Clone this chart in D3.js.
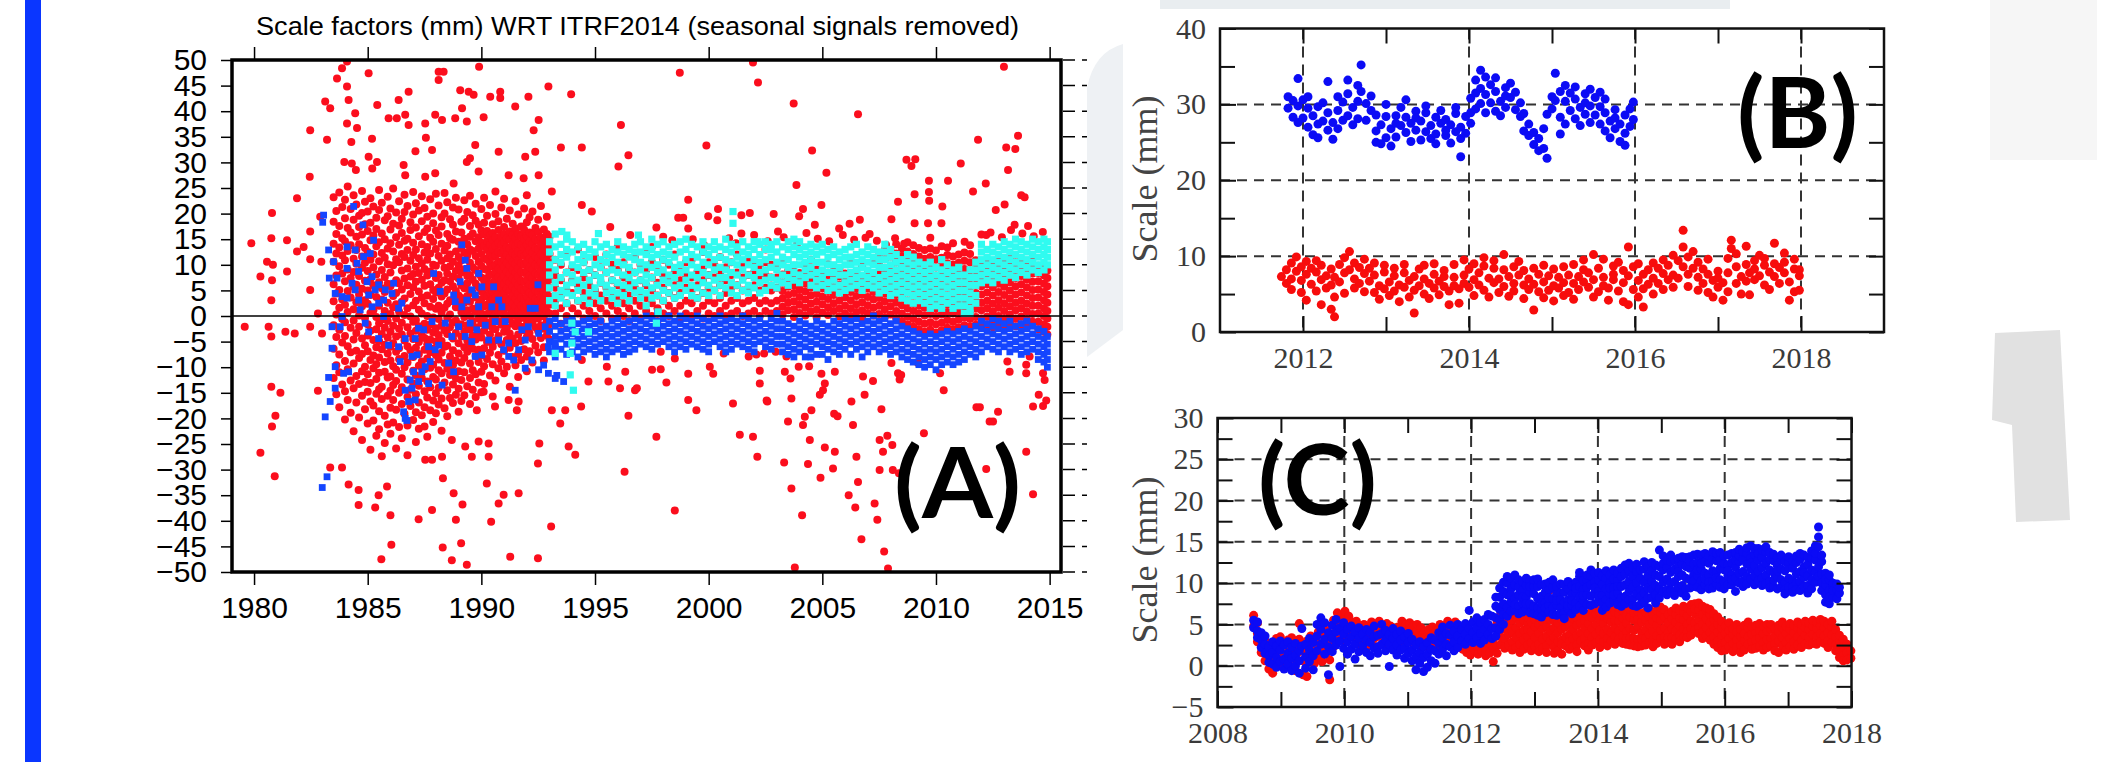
<!DOCTYPE html>
<html>
<head>
<meta charset="utf-8">
<script src="https://cdn.jsdelivr.net/npm/d3@7"></script>
<style>
  body { margin: 0; background: #fff; }
  svg { display: block; }
</style>
</head>
<body>
<svg id="chart" width="2107" height="762"></svg>
<script>
// ---------- panel A : scale factors WRT ITRF2014 ----------
var aTitle = "Scale factors (mm) WRT ITRF2014 (seasonal signals removed)";
var aYearTicks = [1980, 1985, 1990, 1995, 2000, 2005, 2010, 2015];
var aValTicks = [50, 45, 40, 35, 30, 25, 20, 15, 10, 5, 0, -5, -10, -15, -20, -25, -30, -35, -40, -45, -50];

// rows are [epoch, value, value, ...] : all values read for one epoch column
var aRedCore = [
  [1983.50, 23.2, 18.4, 14.1, 10.6, 6.2, 2.9, -1.8, -6.4, -12.1],
  [1983.62, 20.5, 16.0, 12.2, 7.9, 4.4, 0.3, -4.1, -9.6, -15.3],
  [1983.75, 24.1, 17.6, 13.4, 9.7, 5.1, 1.6, -2.7, -7.5, -11.0, -17.8],
  [1983.88, 21.3, 15.2, 11.8, 8.3, 3.2, -0.6, -5.2, -13.4],
  [1984.00, 22.7, 19.1, 14.6, 10.9, 6.8, 2.2, -1.2, -3.9, -8.8, -14.7, -20.2],
  [1984.12, 25.3, 17.2, 12.7, 9.1, 4.9, 0.8, -5.9, -10.4, -16.4],
  [1984.25, 20.9, 16.3, 13.8, 7.4, 3.6, -2.3, -7.1, -12.6, -18.9],
  [1984.38, 23.6, 18.8, 11.2, 8.6, 5.7, 1.3, -0.9, -4.6, -9.3, -14.1, -22.5],
  [1984.50, 21.8, 15.5, 12.9, 10.2, 6.1, 2.7, -3.3, -6.8, -11.7, -16.9],
  [1984.62, 19.6, 17.4, 14.0, 7.8, 4.2, 0.1, -2.1, -8.2, -13.3, -19.8],
  [1984.75, 24.4, 20.1, 15.9, 11.6, 9.4, 5.3, 1.9, -4.4, -7.4, -10.8, -15.6, -24.2],
  [1984.88, 22.3, 17.9, 13.3, 10.4, 6.9, 3.1, -0.4, -5.7, -9.9, -12.9, -18.2],
  [1985.00, 20.4, 16.6, 12.5, 8.8, 5.0, 2.4, -1.6, -3.8, -6.9, -11.4, -14.8, -21.0],
  [1985.12, 23.0, 18.2, 14.8, 11.0, 7.2, 4.1, 0.6, -2.9, -8.6, -13.1, -16.7, -26.1],
  [1985.25, 21.4, 15.7, 12.0, 9.5, 6.0, 1.1, -4.7, -7.7, -10.2, -17.5, -20.4],
  [1985.38, 19.2, 17.0, 13.6, 8.1, 3.7, -0.2, -2.6, -6.1, -9.4, -12.3, -15.2, -23.4],
  [1985.50, 24.6, 20.7, 14.4, 10.7, 6.6, 2.0, -1.4, -4.9, -8.1, -11.1, -14.3, -18.6, -22.1],
  [1985.62, 22.1, 16.1, 12.3, 9.0, 5.4, 3.2, -0.7, -3.5, -6.5, -13.8, -16.2, -27.4],
  [1985.75, 18.7, 15.0, 11.4, 7.6, 4.7, 1.0, -2.3, -5.6, -9.0, -10.9, -19.5, -24.8],
  [1985.88, 23.3, 19.5, 13.2, 10.1, 6.3, 2.6, -1.0, -4.2, -7.3, -12.0, -15.6, -21.2],
  [1986.00, 21.0, 16.9, 14.2, 8.5, 5.8, 0.4, -3.1, -6.0, -8.7, -11.8, -14.6, -17.9, -23.0],
  [1986.12, 24.9, 18.0, 12.6, 9.9, 3.9, 1.7, -1.9, -5.3, -9.8, -13.5, -16.4, -20.8],
  [1986.25, 20.2, 15.4, 11.1, 7.0, 4.5, 2.3, -0.5, -4.0, -7.0, -10.5, -12.7, -18.3, -25.9],
  [1986.38, 22.4, 17.7, 13.9, 10.5, 6.4, 0.9, -2.5, -6.3, -8.4, -15.0, -21.7],
  [1986.50, 19.0, 16.2, 12.1, 8.9, 5.2, 2.8, -1.3, -3.6, -11.3, -13.9, -17.2, -23.9],
  [1986.62, 23.7, 20.3, 14.7, 11.5, 7.3, 3.4, 0.2, -4.8, -7.8, -10.0, -19.1],
  [1986.75, 21.5, 15.1, 12.9, 9.3, 6.0, 1.5, -2.2, -5.9, -9.1, -12.4, -15.8, -21.4, -27.2],
  [1986.88, 18.3, 16.8, 10.8, 7.7, 4.3, -0.1, -3.4, -6.7, -14.4, -17.6],
  [1987.00, 24.2, 19.8, 14.3, 11.9, 8.2, 5.6, 2.1, -1.1, -4.5, -8.0, -10.7, -13.2, -20.3],
  [1987.12, 22.0, 17.3, 13.0, 9.6, 6.7, 3.0, -0.8, -2.9, -6.2, -11.6, -15.3, -18.8, -24.6],
  [1987.25, 20.6, 15.6, 11.3, 8.4, 4.8, 1.2, -2.0, -5.1, -7.4, -9.7, -13.6, -16.9, -22.0],
  [1987.38, 23.4, 18.5, 14.0, 10.3, 7.1, 3.6, 0.5, -3.8, -8.9, -12.1, -19.4],
  [1987.50, 21.1, 16.4, 12.4, 9.2, 5.9, 2.5, -1.5, -4.3, -6.6, -10.4, -14.7, -17.8, -21.6],
  [1987.62, 19.4, 17.1, 13.5, 11.0, 7.9, 4.0, 0.0, -2.7, -5.5, -8.3, -12.8, -15.9, -23.6],
  [1987.75, 22.8, 15.3, 12.2, 8.7, 6.2, 1.8, -1.7, -4.6, -7.1, -10.1, -13.9, -18.4],
  [1987.88, 20.0, 18.1, 14.5, 10.0, 5.1, 3.3, -0.3, -3.2, -6.4, -9.5, -11.9, -16.5, -20.7],
  [1988.00, 23.9, 16.7, 13.1, 9.8, 7.4, 4.6, 1.4, -2.4, -5.0, -7.6, -12.4, -15.1, -19.0],
  [1988.12, 21.6, 15.8, 11.7, 8.0, 5.5, 2.0, -0.6, -3.7, -8.5, -10.6, -14.0, -17.3],
  [1988.25, 19.3, 17.5, 14.1, 10.8, 6.5, 3.8, 0.7, -1.9, -4.9, -7.2, -11.2, -16.1, -22.4],
  [1988.38, 24.0, 20.0, 12.8, 9.4, 7.0, 4.4, 1.6, -2.8, -6.0, -9.2, -13.0, -18.0],
  [1988.50, 22.2, 16.0, 13.7, 11.3, 8.3, 5.2, 2.4, -0.4, -3.5, -5.8, -10.3, -14.5, -19.6],
  [1988.62, 18.9, 15.2, 12.0, 9.7, 6.8, 3.1, 0.3, -2.2, -7.9, -11.5, -16.0],
  [1988.75, 21.2, 17.8, 14.9, 10.6, 7.7, 5.8, 2.9, -1.2, -4.4, -6.7, -9.6, -13.4, -17.0],
  [1988.88, 23.1, 16.5, 12.6, 8.8, 4.9, 1.7, -0.9, -3.3, -8.7, -12.2, -15.4],
  [1989.00, 20.8, 14.5, 11.5, 9.9, 7.3, 4.0, 2.2, -2.0, -5.3, -7.3, -10.8, -14.2, -18.7],
  [1989.12, 18.4, 16.3, 13.3, 10.9, 8.5, 6.0, 3.5, 0.8, -1.6, -4.0, -9.1, -12.5, -16.6],
  [1989.25, 22.6, 19.0, 15.1, 12.4, 9.1, 5.4, 2.6, -0.2, -3.0, -6.1, -8.2, -11.0, -15.5],
  [1989.38, 20.3, 14.0, 11.8, 7.8, 6.4, 3.9, 1.1, -1.8, -4.8, -7.0, -13.7],
  [1989.50, 23.5, 17.6, 15.5, 13.0, 10.4, 8.0, 5.0, 2.8, 0.0, -2.6, -5.5, -9.3, -12.1, -17.2],
  [1989.62, 19.7, 16.1, 12.7, 9.5, 7.1, 4.5, 1.4, -1.0, -3.8, -6.4, -10.6, -14.4],
  [1989.75, 21.9, 18.6, 14.6, 11.7, 9.0, 6.3, 3.6, 0.9, -2.2, -4.6, -7.8, -11.4, -15.8],
  [1989.88, 17.8, 15.4, 13.2, 10.6, 8.2, 5.6, 2.3, -0.5, -3.2, -6.6, -9.0, -13.0],
  [1990.00, 20.9, 16.7, 14.3, 12.1, 9.8, 7.5, 4.8, 3.2, 0.5, -1.4, -4.2, -7.7, -10.9, -14.9],
  [1990.12, 23.1, 18.2, 15.9, 13.6, 11.3, 9.2, 6.9, 4.2, 1.9, -0.8, -2.9, -6.3, -9.8, -13.3],
  [1990.25, 19.6, 16.6, 14.6, 12.9, 11.0, 9.0, 7.4, 5.6, 3.8, 2.2, 0.4, -1.9, -5.1, -8.4],
  [1990.38, 21.7, 15.7, 13.9, 12.0, 10.2, 8.1, 6.2, 4.6, 2.9, 1.0, -1.2, -3.6, -7.2, -11.6],
  [1990.50, 17.9, 16.2, 14.8, 13.1, 11.5, 9.6, 8.0, 6.5, 4.8, 3.3, 1.5, -0.3, -2.4, -6.0, -9.4, -15.7],
  [1990.62, 24.3, 19.9, 15.4, 13.7, 11.8, 10.0, 8.6, 6.9, 5.2, 3.6, 2.0, 0.2, -2.6, -4.8, -12.6],
  [1990.75, 18.5, 16.8, 14.3, 12.5, 10.7, 9.3, 7.6, 5.9, 4.3, 2.6, 0.8, -1.0, -3.9, -7.6, -10.2],
  [1990.88, 21.2, 15.5, 13.8, 12.2, 10.5, 8.9, 7.1, 5.4, 3.7, 2.1, 0.6, -1.7, -5.5, -8.9],
  [1991.00, 22.9, 17.4, 16.0, 14.4, 12.8, 11.1, 9.5, 7.8, 6.2, 4.5, 2.9, 1.3, -0.5, -3.1, -6.8, -11.2],
  [1991.12, 19.0, 15.2, 13.5, 11.9, 10.4, 8.7, 7.0, 5.3, 3.5, 1.8, 0.1, -2.3, -4.7, -9.9],
  [1991.25, 20.6, 16.5, 14.9, 13.2, 11.4, 9.8, 8.2, 6.6, 4.9, 3.1, 1.5, -0.7, -3.4, -6.2, -13.8],
  [1991.38, 18.0, 15.8, 14.0, 12.3, 10.6, 9.0, 7.3, 5.7, 4.0, 2.4, 0.7, -1.5, -4.4, -8.0],
  [1991.50, 22.4, 17.1, 15.3, 13.6, 11.9, 10.2, 8.5, 6.8, 5.1, 3.4, 1.8, 0.0, -2.0, -5.3, -9.6],
  [1991.62, 19.8, 16.0, 14.2, 12.6, 10.9, 9.3, 7.7, 6.0, 4.4, 2.7, 1.0, -0.9, -3.6, -7.4, -11.9],
  [1991.75, 17.5, 15.6, 13.9, 12.1, 10.3, 8.6, 6.9, 5.3, 3.6, 2.0, 0.3, -2.1, -4.9, -8.6],
  [1991.88, 21.0, 16.9, 15.1, 13.4, 11.7, 10.0, 8.4, 6.7, 5.0, 3.3, 1.6, -0.4, -2.8, -6.5],
  [1992.00, 23.6, 18.3, 15.6, 13.9, 12.2, 10.5, 8.8, 7.1, 5.5, 3.8, 2.1, 0.5, -1.6, -4.1, -7.9, -10.8],
  [1992.12, 19.3, 16.3, 14.6, 12.9, 11.2, 9.5, 7.9, 6.2, 4.6, 2.9, 1.2, -0.6, -3.3, -6.9],
  [1992.25, 20.4, 15.9, 14.1, 12.4, 10.8, 9.1, 7.4, 5.8, 4.1, 2.5, 0.8, -1.3, -4.5, -9.1],
  [1992.38, 17.2, 15.0, 13.3, 11.6, 10.0, 8.3, 6.6, 5.0, 3.3, 1.7, 0.0, -2.2, -5.8],
  [1992.50, 18.8, 16.4, 14.7, 13.0, 11.3, 9.7, 8.0, 6.3, 4.7, 3.0, 1.4, -0.5, -3.0, -7.1],
  [1992.62, 21.5, 15.4, 13.7, 12.0, 10.4, 8.7, 7.0, 5.4, 3.7, 2.1, 0.4, -1.8, -4.3],
  [1992.75, 16.9, 14.9, 13.2, 11.5, 9.9, 8.2, 6.5, 4.9, 3.2, 1.6, -0.1, -2.5, -6.1, -8.7],
  [1992.88, 19.4, 16.0, 14.3, 12.6, 10.9, 9.2, 7.6, 5.9, 4.3, 2.6, 0.9, -1.1, -3.8],
  [1993.00, 15.5, 13.8, 12.1, 10.5, 8.8, 7.1, 5.5, 3.8, 2.2, 0.5, -1.6, -4.6],
  [1993.25, 0.5, 3, 5.5, 8, 11], [1993.50, -1.5, 1.5, 4, 7, 10], [1993.75, 0, 2.5, 5, 8.5, 12],
  [1994.00, -1, 1.5, 4.5, 7, 9.5], [1994.25, 0.5, 3, 6, 9, 13], [1994.50, -0.5, 2, 4.5, 7.5, 10.5],
  [1994.75, 1, 3.5, 6, 9], [1995.00, 0, 2.5, 5, 8, 11.5], [1995.25, -1, 1.5, 4, 6.5, 9.5],
  [1995.50, 0.5, 3, 5.5, 8.5, 12], [1995.75, -0.5, 2, 4.5, 7, 10], [1996.00, 1, 3.5, 6, 9, 13.5],
  [1996.25, 0, 2.5, 5, 7.5, 10.5], [1996.50, -1, 1.5, 4, 6.5, 9], [1996.75, 0.5, 3, 5.5, 8.5, 11.5],
  [1997.00, -0.5, 2, 4.5, 7, 10], [1997.25, 1, 3.5, 6, 9, 12.5], [1997.50, 0, 2.5, 5, 7.5, 10.5],
  [1997.75, -1, 1.5, 4, 6.5, 9.5], [1998.00, 0.5, 3, 5.5, 8, 11], [1998.25, 0, 2, 4.5, 7.5, 10],
  [1998.50, 1, 3.5, 6, 8.5, 12], [1998.75, -0.5, 2, 4.5, 7, 9.5], [1999.00, 0.5, 3, 5.5, 8, 10.5],
  [1999.25, 0, 2.5, 5, 7.5, 11], [1999.50, 1, 3.5, 6, 8.5], [1999.75, -0.5, 2, 4.5, 7, 9.5, 12.5],
  [2000.00, 0.5, 3, 5.5, 8, 10.5], [2000.25, 0, 2.5, 5, 7.5, 10], [2000.50, 1, 3.5, 6, 8.5, 11.5],
  [2000.75, 0, 2, 4.5, 7, 9.5], [2001.00, 0.5, 3, 5.5, 8, 10.5], [2001.25, 1, 3.5, 6, 8.5, 12],
  [2001.50, 0, 2.5, 5, 7.5, 10], [2001.75, 0.5, 3, 5.5, 8, 11], [2002.00, 1, 3.5, 6, 8.5, 10.5],
  [2002.25, 0, 2.5, 5, 7.5, 9.5], [2002.50, 1, 3, 5.5, 8, 10.5, 13], [2002.75, 0.5, 2.5, 5, 7.5, 10],
  [2003.00, 1, 3, 5.5, 7.5, 9.5],
  [2003.25, 0.3, 1.8, 3.4, 4.9, 6.5, 8.1, 10.6], [2003.50, 1.1, 2.6, 4.1, 5.7, 7.3, 8.9],
  [2003.75, -0.2, 1.3, 2.9, 4.5, 6.0, 7.6, 9.8], [2004.00, 0.6, 2.2, 3.7, 5.2, 6.8, 8.4],
  [2004.25, 0.1, 1.6, 3.2, 4.8, 6.3, 7.9, 10.3], [2004.50, 0.9, 2.4, 4.0, 5.5, 7.1, 8.7, 11.0],
  [2004.75, -0.3, 1.2, 2.8, 4.3, 5.9, 7.5, 9.1], [2005.00, 0.7, 2.3, 3.8, 5.4, 6.9, 8.5],
  [2005.25, 0.2, 1.7, 3.3, 4.9, 6.4, 8.0, 10.1], [2005.50, 1.0, 2.5, 4.1, 5.6, 7.2, 8.8],
  [2005.75, -0.1, 1.4, 3.0, 4.6, 6.1, 7.7, 9.3], [2006.00, 0.5, 2.0, 3.6, 5.1, 6.7, 8.3],
  [2006.25, 0.0, 1.5, 3.1, 4.7, 6.2, 7.8, 10.8], [2006.50, 0.8, 2.3, 3.9, 5.4, 7.0, 8.6],
  [2006.75, -0.4, 1.1, 2.7, 4.2, 5.8, 7.4, 9.7], [2007.00, 0.6, 2.1, 3.7, 5.3, 6.8, 8.4],
  [2007.25, 0.1, 1.6, 3.2, 4.7, 6.3, 7.9, 10.2], [2007.50, 0.4, 2.0, 3.5, 5.1, 6.6, 8.2, 9.9, 11.8],
  [2007.75, -0.2, 1.3, 2.9, 4.4, 6.0, 7.6, 9.3, 11.1, 13.0],
  [2008.00, 0.3, 1.9, 3.4, 5.0, 6.5, 8.1, 9.8, 11.6, 12.9],
  [2008.25, -0.5, 1.0, 2.6, 4.1, 5.7, 7.3, 8.9, 10.6, 12.2, 14.0],
  [2008.50, -1.0, 0.5, 2.1, 3.6, 5.2, 6.8, 8.4, 10.0, 11.7, 13.2],
  [2008.75, -1.6, -0.1, 1.5, 3.0, 4.6, 6.2, 7.8, 9.4, 11.0, 12.6, 14.4],
  [2009.00, -2.1, -0.6, 1.0, 2.5, 4.1, 5.7, 7.3, 8.9, 10.5, 12.1, 13.8],
  [2009.25, -2.6, -1.1, 0.5, 2.0, 3.6, 5.2, 6.8, 8.4, 10.0, 11.6, 13.3],
  [2009.50, -3.1, -1.5, 0.1, 1.6, 3.2, 4.8, 6.4, 8.0, 9.6, 11.2, 12.9],
  [2009.75, -2.7, -1.2, 0.4, 1.9, 3.5, 5.1, 6.7, 8.3, 9.9, 11.5, 13.2, 15.3],
  [2010.00, -3.2, -1.6, 0.0, 1.5, 3.1, 4.7, 6.3, 7.9, 9.5, 11.1, 12.8],
  [2010.25, -2.8, -1.3, 0.3, 1.8, 3.4, 5.0, 6.6, 8.2, 9.8, 11.4, 13.6],
  [2010.50, -2.3, -0.8, 0.8, 2.3, 3.9, 5.5, 7.1, 8.7, 10.3, 11.9, 13.4],
  [2010.75, -2.6, -1.1, 0.5, 2.0, 3.6, 5.2, 6.8, 8.4, 10.0, 11.6, 14.2],
  [2011.00, -2.2, -0.7, 0.9, 2.4, 4.0, 5.6, 7.2, 8.8, 10.4, 12.0],
  [2011.25, -1.8, -0.3, 1.3, 2.8, 4.4, 6.0, 7.6, 9.2, 10.8, 12.4],
  [2011.50, -2.1, -0.6, 1.0, 2.5, 4.1, 5.7, 7.3, 8.9, 10.5, 12.1, 13.8],
  [2011.75, -1.7, -0.2, 1.4, 2.9, 4.5, 6.1, 7.7, 9.3, 10.9],
  [2012.00, -2.0, -0.5, 1.1, 2.6, 4.2, 5.8, 7.4, 9.0, 10.4],
  [2012.25, -1.6, -0.1, 1.5, 3.0, 4.6, 6.2, 7.8, 9.4, 10.7],
  [2012.50, -2.2, -0.7, 0.9, 2.4, 4.0, 5.6, 7.2, 8.8, 10.2],
  [2012.75, -1.5, 0.0, 1.6, 3.1, 4.7, 6.3, 7.9, 9.5, 11.1],
  [2013.00, -2.1, -0.6, 1.0, 2.5, 4.1, 5.7, 7.3, 8.9, 10.3],
  [2013.25, -1.2, 0.3, 1.9, 3.4, 5.0, 6.6, 8.2, 9.8, 11.2],
  [2013.50, -2.0, -0.5, 1.1, 2.6, 4.2, 5.8, 7.4, 9.0, 10.5],
  [2013.75, -1.6, -0.1, 1.5, 3.0, 4.6, 6.2, 7.8, 9.4, 10.9],
  [2014.00, -2.2, -0.7, 0.9, 2.4, 4.0, 5.6, 7.2, 8.8, 10.1],
  [2014.25, -1.1, 0.4, 2.0, 3.5, 5.1, 6.7, 8.3, 9.9, 11.3],
  [2014.50, -2.6, -1.1, 0.5, 2.0, 3.6, 5.2, 6.8, 8.4, 9.8],
  [2014.75, -3.1, -1.6, 0.0, 1.5, 3.1, 4.7, 6.3, 7.9, 9.4],
  [2014.90, -3.6, -2.1, -0.5, 1.0, 2.6, 4.2, 5.8, 7.4, 8.9]
];

var aRedOut = [
  [1984.09, 49.7], [1983.87, 48.4], [1983.65, 46.4], [1984.09, 44.8], [1985.04, 47.4], [1983.13, 41.9],
  [1983.35, 40.6], [1984.16, 42.2], [1984.45, 39.6], [1984.09, 37.6], [1984.53, 36.7], [1982.47, 36.3],
  [1983.21, 34.4], [1984.28, 34.0], [1985.19, 34.6], [1985.42, 41.2], [1986.36, 42.2], [1986.8, 43.8],
  [1985.92, 38.6], [1986.28, 38.6], [1986.65, 39.3], [1986.8, 37.3], [1988.12, 47.7], [1988.34, 47.7],
  [1988.12, 46.1], [1989.9, 48.7], [1989.07, 44.1], [1989.44, 43.8], [1989.66, 43.2], [1990.39, 42.8],
  [1990.83, 43.8], [1990.83, 42.6], [1991.49, 40.9], [1992.07, 42.8], [1992.95, 44.8], [1993.95, 43.3],
  [1987.53, 37.6], [1987.97, 39.3], [1988.27, 38.3], [1988.85, 38.6], [1989.15, 40.6], [1989.36, 38.0],
  [1990.1, 38.8], [1992.52, 38.3], [1992.3, 36.3], [1987.56, 34.8], [1987.83, 32.4], [1987.1, 32.2],
  [1989.73, 33.4], [1990.76, 32.1], [1991.93, 31.1], [1992.37, 32.1], [1996.14, 37.3], [1996.47, 31.4],
  [1996.03, 29.2], [1994.42, 32.9], [1993.5, 32.9], [1983.97, 30.1], [1984.3, 29.8], [1985.04, 31.1],
  [1985.41, 30.1], [1984.48, 28.5], [1985.2, 28.8], [1986.58, 29.5], [1982.45, 27.2], [1986.65, 27.5],
  [1987.53, 27.2], [1987.97, 27.9], [1988.78, 25.9], [1989.36, 30.1], [1989.5, 30.8], [1989.88, 28.2],
  [1991.2, 27.5], [1991.86, 26.9], [1992.52, 27.5], [1993.1, 24.3], [1994.42, 21.7], [1994.86, 20.4],
  [1995.67, 17.4], [1996.55, 15.8], [1981.89, 23.0], [1980.79, 20.1], [1980.76, 15.2], [1981.45, 14.8],
  [1979.88, 14.2], [1980.57, 10.6], [1980.83, 10.0], [1980.28, 7.7], [1980.79, 7.0], [1981.45, 8.7],
  [1980.76, 3.1], [1982.47, 16.5], [1982.47, 11.1], [1982.47, 5.1], [1981.89, 12.6], [1982.18, 13.5],
  [1982.81, 0.5], [1982.91, 19.4], [1982.96, 10.6], [1979.59, -2.1], [1980.64, -2.1], [1980.76, -4.0],
  [1981.38, -3.1], [1981.79, -3.4], [1982.47, -2.1], [1982.99, -3.4], [1980.76, -13.8], [1981.16, -15.0],
  [1982.81, -14.6], [1980.94, -19.5], [1980.79, -21.6], [1980.28, -26.7], [1980.91, -31.3], [1983.35, -29.6],
  [1983.87, -29.6], [1984.16, -32.9], [1984.6, -34.0], [1984.6, -36.9], [1985.33, -37.4], [1985.48, -35.0],
  [1985.85, -33.3], [1986.0, -38.9], [1986.04, -44.7], [1985.6, -47.5], [1987.24, -39.7], [1987.83, -37.9],
  [1988.3, -45.2], [1988.7, -47.7], [1989.36, -48.6], [1989.11, -44.4], [1988.88, -39.8], [1987.53, -28.1],
  [1987.83, -28.1], [1988.31, -31.7], [1988.78, -34.6], [1989.17, -36.8], [1990.24, -32.7], [1990.43, -40.2],
  [1990.76, -36.6], [1990.98, -34.9], [1991.64, -34.6], [1991.27, -47.0], [1992.49, -47.3], [1993.07, -41.1],
  [1992.49, -28.8], [1992.55, -24.9], [1993.84, -25.5], [1994.13, -27.1], [1996.3, -30.4], [1996.47, -19.5],
  [1994.39, -17.7], [1994.71, -12.8], [1995.59, -12.8], [1996.76, -14.5], [1993.47, -21], [1993.1, -18.4],
  [1993.69, -18.4], [1991.56, -18.4], [1991.2, -16.4], [1991.64, -16.7], [1990.1, -14.8], [1989.8, -18.4],
  [1990.6, -17.7], [1989.88, -24.5], [1990.32, -24.9], [1989.29, -25.5], [1988.7, -24.2], [1989.58, -27.5],
  [1990.32, -27.5], [1988.27, -27.5],
  [2001.95, 49.5], [1998.73, 47.5], [2002.17, 45.6], [2012.99, 48.7], [2003.74, 41.5], [2006.57, 39.4],
  [1999.9, 33.3], [2004.55, 32.3], [2011.85, 34.4], [2013.09, 32.9], [2013.49, 32.6], [2013.61, 35.2],
  [2013.17, 28.5], [2005.18, 28.0], [2008.7, 30.5], [2009.09, 30.6], [2008.92, 29.3], [2011.09, 29.8],
  [2003.86, 25.6], [2009.69, 26.4], [2010.53, 26.4], [2012.19, 25.9], [2011.63, 24.3], [2009.06, 23.8],
  [2009.69, 24.2], [2013.75, 23.6], [2013.9, 23.2], [1999.1, 22.7], [2008.33, 22.3], [2009.7, 22.5],
  [2010.28, 21.4], [2013.02, 21.8], [2012.63, 20.7], [2000.41, 20.9], [1999.98, 19.5], [2004.15, 20.9],
  [2004.96, 21.7], [2002.86, 19.9], [2003.98, 19.5], [2001.44, 19.7], [2001.81, 20.1], [1998.66, 19.2],
  [1998.88, 19.2], [2000.38, 18.7], [2008.04, 18.9], [2004.67, 17.8], [1997.7, 17.3], [1999.1, 17.1],
  [2005.74, 17.1], [2006.2, 18.0], [2006.65, 18.8], [2009.06, 18.1], [2009.65, 18.1], [2010.24, 18.1],
  [2013.46, 17.8], [2014.05, 17.6], [2003.05, 16.5], [2001.44, 16.1], [2007.08, 16.0], [2012.21, 15.8],
  [2011.26, 14.5], [1997.5, 13.5], [1998.0, 15.5], [1998.4, 14.8], [1999.3, 15.0], [1999.8, 13.8],
  [2000.9, 15.2], [2001.2, 14.2], [2002.0, 15.8], [2002.6, 14.6], [2003.3, 15.4], [2003.9, 14.2],
  [2004.3, 16.2], [2004.8, 15.1], [2005.3, 14.6], [2005.9, 15.8], [2006.4, 14.9], [2006.9, 15.3],
  [2007.4, 14.7], [2007.8, 13.9], [2008.2, 15.2], [2008.6, 14.1], [2012.0, 15.9], [2012.4, 16.3],
  [2012.9, 15.4], [2013.3, 16.8], [2013.8, 16.1], [2014.3, 15.6], [2014.7, 16.4],
  [1997.89, -7.0], [1998.51, -8.3], [1997.89, -10.4], [1999.1, -11.3], [2000.05, -9.9], [2000.2, -11.3],
  [1998.14, -13.0], [2000.66, -7.3], [2001.76, -7.9], [2002.1, -7.5], [2002.44, -7.3], [2002.25, -10.7],
  [2002.25, -13.2], [2002.95, -7.0], [2003.42, -7.9], [2003.35, -10.9], [2003.96, -9.9], [2003.6, -12.2],
  [2004.42, -9.8], [2004.96, -11.3], [2005.11, -13.2], [2005.03, -14.5], [2004.89, -15.4], [2005.55, -10.9],
  [2004.52, -18.4], [2004.23, -19.7], [2004.15, -21.3], [2003.64, -16.1], [2003.49, -20.6], [2002.58, -16.7],
  [1999.1, -16.4], [1999.46, -18.4], [2001.07, -17.1], [2001.37, -23.2], [2001.95, -23.6], [2002.14, -27.5],
  [2003.32, -28.6], [2004.37, -28.9], [2003.64, -33.7], [2004.11, -38.9], [2004.45, -24.2], [2005.11, -25.7],
  [2005.55, -26.5], [2004.92, -31.6], [2005.47, -29.8], [2006.16, -35.0], [2006.45, -37.4], [2006.57, -32.4],
  [2006.5, -27.5], [2006.28, -16.7], [2005.52, -19.1], [2005.67, -19.6], [2006.35, -21.3], [2006.86, -15.4],
  [2006.79, -11.8], [2007.23, -12.7], [2007.6, -18.2], [2007.3, -36.6], [2007.42, -39.8], [2006.72, -43.6],
  [2007.72, -46.0], [2007.89, -49.3], [2003.79, -49.1], [2007.52, -24.2], [2007.86, -23.4], [2008.08, -25.2],
  [2007.67, -26.5], [2007.52, -30.1], [2008.1, -30.1], [2008.37, -30.7], [2008.04, -9.2], [2008.33, -11.2],
  [2008.47, -11.5], [2008.4, -12.4], [2009.21, -9.2], [2009.47, -22.9], [2010.18, -11.2], [2010.34, -14.5],
  [2011.78, -17.8], [2011.93, -17.8], [2012.36, -20.6], [2012.51, -20.6], [2012.73, -18.7], [2012.21, -29.9],
  [2014.27, -17.7], [2014.52, -15.4], [2014.27, -34.8], [2013.97, -26.5], [2013.14, -8.9], [2013.24, -10.9],
  [2013.97, -11.2], [2013.97, -9.5], [2014.12, -7.9], [2014.71, -11.2], [2014.78, -12.5], [2014.71, -17.6],
  [2014.85, -16.5], [1997.51, -10.5], [1997.7, -23.6], [1998.51, -38.0], [2002.55, -16.5], [1995.52, -9.9],
  [1996.1, -14.1], [1996.84, -14.1], [1994.42, -8.6], [1996.33, -10.9]
];

var aBlueCore = [
  [1993.00, -1, -3, -5, -7], [1993.25, -0.5, -2, -4, -6, -8], [1993.50, -1.5, -3, -4.5, -6.5],
  [1993.75, -1, -2.5, -4, -5.5, -7.5], [1994.00, -0.5, -2, -3.5, -5, -7], [1994.25, -1.5, -3, -4.5, -6, -8],
  [1994.50, -1, -2.5, -4, -5.5, -7], [1994.75, -0.5, -2, -3.5, -5, -6.5], [1995.00, -1.5, -3, -4.5, -6, -7.5],
  [1995.25, -1, -2.5, -4, -5.5, -7], [1995.50, -2, -3.5, -5, -6.5, -8], [1995.75, -1, -2.5, -4, -5.5, -7],
  [1996.00, -0.5, -2, -3.5, -5, -6.5], [1996.25, -1.5, -3, -4.5, -6, -7.5], [1996.50, -1, -2.5, -4, -5.5, -7],
  [1996.75, -0.5, -2, -3.5, -5, -6.5], [1997.00, -1, -2.5, -4, -5.5], [1997.25, 0, -1.5, -3, -4.5, -6],
  [1997.50, -0.5, -2, -3.5, -5, -6.5], [1997.75, 0.5, -1, -2.5, -4, -5.5], [1998.00, -0.5, -2, -3.5, -5],
  [1998.25, 0, -1.5, -3, -4.5, -6], [1998.50, -1, -2.5, -4, -5.5, -7], [1998.75, 0, -1.5, -3, -4.5, -6],
  [1999.00, -0.5, -2, -3.5, -5, -6.5], [1999.25, -1, -2.5, -4, -5.5], [1999.50, 0, -1.5, -3, -4.5, -6],
  [1999.75, -0.5, -2, -3.5, -5, -6.5], [2000.00, -1, -2.5, -4, -5.5, -7], [2000.25, -0.5, -2, -3.5, -5],
  [2000.50, 0, -1.5, -3, -4.5, -6], [2000.75, -1, -2.5, -4, -5.5, -7], [2001.00, -0.5, -2, -3.5, -5, -6.5],
  [2001.25, -1, -2.5, -4, -5.5], [2001.50, 0, -1.5, -3, -4.5, -6], [2001.75, -0.5, -2, -3.5, -5, -6.5],
  [2002.00, -1, -2.5, -4, -5.5, -7], [2002.25, -0.5, -2, -3.5, -5], [2002.50, -1.5, -3, -4.5, -6],
  [2002.75, -0.5, -2, -3.5, -5, -6.5], [2003.00, 0.5, -1, -2.5, -4, -5.5], [2003.25, -1, -2.5, -4, -5.5, -7],
  [2003.50, -1.5, -3, -4.5, -6, -7.5], [2003.75, -2, -3.5, -5, -6.5, -8], [2004.00, -1, -2.5, -4, -5.5, -7],
  [2004.25, -1.5, -3, -4.5, -6, -8], [2004.50, -2, -3.5, -5, -6.5, -8], [2004.75, -1, -2.5, -4, -5.5, -7.5],
  [2005.00, -1.5, -3, -4.5, -6, -7.5], [2005.25, -2, -3.5, -5, -6.5, -8.5], [2005.50, -1, -2.5, -4, -5.5, -7],
  [2005.75, -1.5, -3, -4.5, -6, -7.5], [2006.00, -0.5, -2, -3.5, -5, -6.5], [2006.25, -1, -2.5, -4, -5.5, -7.5],
  [2006.50, -0.5, -2, -3.5, -5, -6.5], [2006.75, -1.5, -3, -4.5, -6, -8], [2007.00, -1, -2.5, -4, -5.5, -7],
  [2007.25, 0, -1.5, -3, -4.5, -6], [2007.50, -1, -2.5, -4, -5.5, -7], [2007.75, -0.5, -2, -3.5, -5, -6.5],
  [2008.00, -1.5, -3, -4.5, -6, -7.5], [2008.25, -1, -2.5, -4, -5.5, -7], [2008.50, -2, -3.5, -5, -6.5, -8],
  [2008.75, -2.5, -4, -5.5, -7, -8.5], [2009.00, -3, -4.5, -6, -7.5, -9], [2009.25, -3.5, -5, -6.5, -8, -9.5],
  [2009.50, -4, -5.5, -7, -8.5, -10], [2009.75, -3.5, -5, -6.5, -8, -9.5], [2010.00, -4, -5.5, -7, -8.5, -10.5],
  [2010.25, -3.5, -5, -6.5, -8, -9.5], [2010.50, -3, -4.5, -6, -7.5, -9], [2010.75, -3.5, -5, -6.5, -8, -9.5],
  [2011.00, -3, -4.5, -6, -7.5, -9], [2011.25, -2.5, -4, -5.5, -7, -8.5], [2011.50, -3, -4.5, -6, -7.5],
  [2011.75, -2, -3.5, -5, -6.5, -8], [2012.00, -1, -2.5, -4, -5.5, -7], [2012.25, -1.5, -3, -4.5, -6],
  [2012.50, -0.5, -2, -3.5, -5, -6.5], [2012.75, -1, -2.5, -4, -5.5, -7], [2013.00, -1.5, -3, -4.5, -6],
  [2013.25, -1, -2.5, -4, -5.5, -7], [2013.50, -2, -3.5, -5, -6.5], [2013.75, -1.5, -3, -4.5, -6, -7.5],
  [2014.00, -1, -2.5, -4, -5.5, -7], [2014.25, -2, -3.5, -5, -6.5], [2014.50, -2.5, -4, -5.5, -7, -8.5],
  [2014.75, -3, -4.5, -6, -7.5, -9], [2014.90, -4, -5.5, -7, -8.5, -10]
];

var aBlueOut = [
  [1983.06, 19.7], [1983.02, 18.3], [1983.28, 12.9], [1983.5, 10.6], [1983.31, 7.4], [1983.65, 7.4],
  [1983.57, 4.4], [1983.87, 3.8], [1984.09, 3.5], [1983.87, -0.1], [1983.43, -2.1], [1983.79, -2.1],
  [1983.43, -6.3], [1983.57, -9.9], [1983.28, -12.0], [1983.94, -11.2], [1984.16, -10.9], [1983.57, -14.1],
  [1983.35, -16.7], [1983.13, -19.7], [1983.21, -31.4], [1983.0, -33.5], [1984.38, 21.4], [1984.79, 17.8],
  [1984.09, 13.5], [1984.45, 12.9], [1985.26, 14.8], [1984.82, 11.6], [1985.11, 12.2], [1984.53, 10.3],
  [1984.09, 9.3], [1984.6, 8.7], [1984.31, 6.4], [1984.97, 6.7], [1985.19, 7.7], [1985.48, 6.1],
  [1984.45, 5.1], [1984.6, 3.1], [1985.04, 4.1], [1985.33, 5.1], [1985.77, 5.1], [1986.14, 6.4],
  [1986.07, 4.4], [1985.7, 3.1], [1984.67, 1.2], [1985.19, 1.8], [1985.48, 2.5], [1986.5, 2.5],
  [1986.36, 1.5], [1985.7, -0.1], [1984.89, -1.4], [1985.04, -3.1], [1985.48, -4.4], [1985.92, -5.7],
  [1986.36, -6.0], [1986.65, -4.4], [1987.09, -4.4], [1987.46, -2.7], [1987.24, -2.4], [1987.68, -6.0],
  [1988.12, -5.7], [1987.97, -6.6], [1986.95, -7.9], [1987.17, -7.6], [1986.43, -8.9], [1987.75, -8.9],
  [1987.53, -9.9], [1987.02, -10.9], [1987.38, -10.9], [1986.87, -12.5], [1987.24, -12.8], [1987.68, -13.2],
  [1988.27, -13.5], [1988.56, -9.2], [1988.78, -10.9], [1986.65, -14.5], [1986.95, -14.1], [1987.09, -16.4],
  [1986.8, -16.7], [1986.58, -18.7], [1986.65, -20.0], [1986.72, -20.4], [1987.9, 8.3], [1988.19, 4.8],
  [1988.78, 4.1], [1989.14, 13.9], [1989.29, 10.9], [1989.36, 9.3], [1989.07, 6.7], [1989.58, 5.1],
  [1989.88, 8.3], [1990.02, 5.7], [1990.54, 5.7], [1989.73, 4.1], [1989.36, 3.1], [1988.85, 2.8],
  [1989.14, 1.8], [1989.88, 1.8], [1990.76, 3.1], [1990.46, 1.8], [1990.9, 1.8], [1988.41, -1.4],
  [1987.83, -1.1], [1989.0, -2.1], [1989.51, -1.4], [1989.8, -2.7], [1990.17, -1.8], [1990.61, -1.1],
  [1991.05, -1.1], [1989.29, -4.0], [1988.7, -4.0], [1989.58, -5.0], [1990.32, -4.7], [1990.76, -4.7],
  [1991.2, -5.3], [1990.98, -6.6], [1990.02, -7.6], [1989.73, -7.9], [1991.2, -7.9], [1991.42, -8.6],
  [1991.64, -6.6], [1991.93, -4.7], [1992.15, 1.5], [1992.37, 1.5], [1992.49, 6.1], [1991.49, -14.5],
  [1991.93, -10.2], [1992.22, -8.6], [1992.52, -10.5], [1992.74, -9.6], [1992.95, -11.2], [1993.25, -12.2],
  [1993.32, -11.6], [1993.62, -12.8], [1991.78, -2.7], [1992.07, -2.1], [1992.52, -3.4], [1992.81, -2.1],
  [1992.95, -6.0], [1993.25, -5.3]
];

var aCyanCore = [
  [1993.00, 3, 5.5, 8, 10, 12.5, 14.5], [1993.25, 2, 4, 6.5, 9, 11, 13.5, 16], [1993.50, 3.5, 5, 7.5, 10.5, 12, 14],
  [1993.75, 2.5, 4.5, 6, 8.5, 11.5, 13, 15], [1994.00, 4, 6.5, 8, 10, 12.5, 14.5], [1994.25, 3, 5, 7, 9.5, 11, 13.5],
  [1994.50, 3.5, 6, 8.5, 10.5, 12, 14], [1994.75, 2.5, 4.5, 7, 9, 11.5, 13], [1995.00, 4, 5.5, 8, 10, 12.5, 14.5],
  [1995.25, 3, 6.5, 7.5, 9.5, 11, 13.5], [1995.50, 4.5, 6, 8.5, 10.5, 12, 14], [1995.75, 3.5, 5, 7, 9, 11.5, 13],
  [1996.00, 2.5, 4.5, 6.5, 8.5, 10.5, 12.5, 14.5], [1996.25, 4, 6, 8, 10, 12, 13.5], [1996.50, 3, 5.5, 7.5, 9.5, 11.5, 13],
  [1996.75, 4.5, 6.5, 8.5, 11, 12.5, 14], [1997.00, 3.5, 5, 7, 9, 10.5, 12.5, 14.5], [1997.25, 2, 4.5, 6.5, 8, 10, 12, 13.5],
  [1997.50, 3.5, 5.5, 7.5, 9.5, 11.5, 13, 15], [1997.75, 4, 6, 8.5, 10, 12, 14], [1998.00, 3, 5, 7, 9, 11, 12.5, 14.5],
  [1998.25, 4.5, 6.5, 8, 10.5, 12, 13.5], [1998.50, 3.5, 5.5, 7.5, 9.5, 11.5, 14], [1998.75, 4, 6, 8.5, 10, 12.5, 14.5],
  [1999.00, 5, 7, 9, 11, 13, 15], [1999.25, 4, 6, 8, 10, 12, 14], [1999.50, 3.5, 5.5, 7.5, 9.5, 11.5, 13.5],
  [1999.75, 4.5, 6.5, 8.5, 10.5, 12.5, 14.5], [2000.00, 4, 6, 8, 10, 12, 13.5], [2000.25, 5, 7, 9, 11, 13, 14.5],
  [2000.50, 4, 6, 7.5, 9.5, 11.5, 13.5], [2000.75, 5.5, 7.5, 9, 11, 13, 15], [2001.00, 4.5, 6.5, 8.5, 10.5, 12.5, 14],
  [2001.25, 4, 6, 8, 10, 11.5, 13.5], [2001.50, 5, 7, 9, 11, 12.5, 14.5], [2001.75, 4.5, 6, 8, 10, 12, 13.5],
  [2002.00, 5.5, 7.5, 9.5, 11, 13, 14.5], [2002.25, 4.5, 6.5, 8.5, 10.5, 12, 14], [2002.50, 5, 7, 9, 11, 13, 14.5],
  [2002.75, 6, 7.5, 9.5, 11.5, 13, 14], [2003.00, 5.5, 7, 9, 10.5, 12.5, 14.5], [2003.25, 6.5, 8, 10, 11.5, 13.5],
  [2003.50, 6, 7.5, 9.5, 11, 13, 14.5], [2003.75, 7, 8.5, 10, 12, 13.5, 15], [2004.00, 6.5, 8, 10, 11.5, 13, 14.5],
  [2004.25, 7.5, 9, 10.5, 12, 13.5], [2004.50, 6, 8, 9.5, 11, 12.5, 14], [2004.75, 5.5, 7, 8.5, 10.5, 12, 13.5],
  [2005.00, 6, 7.5, 9, 10.5, 12.5, 14], [2005.25, 5, 6.5, 8.5, 10, 11.5, 13], [2005.50, 5.5, 7, 8.5, 10, 12, 13.5],
  [2005.75, 4.5, 6, 8, 9.5, 11, 12.5], [2006.00, 5, 6.5, 8, 10, 11.5, 13], [2006.25, 5.5, 7, 8.5, 10, 11.5, 13.5],
  [2006.50, 6, 7.5, 9, 10.5, 12, 14], [2006.75, 5, 6.5, 8, 9.5, 11, 12.5], [2007.00, 6, 7.5, 9, 10.5, 12, 13.5],
  [2007.25, 5.5, 7, 8.5, 10, 11.5, 13], [2007.50, 4.5, 6, 7.5, 9.5, 11, 12.5], [2007.75, 5, 6.5, 8, 9.5, 11, 12.5, 14],
  [2008.00, 4, 5.5, 7, 8.5, 10, 11.5, 13], [2008.25, 4.5, 6, 7.5, 9, 10.5, 12], [2008.50, 3.5, 5, 6.5, 8, 9.5, 11],
  [2008.75, 3, 4.5, 6, 7.5, 9, 10.5, 12], [2009.00, 2.5, 4, 5.5, 7, 8.5, 10, 11.5], [2009.25, 3, 4.5, 6, 7.5, 9, 10.5],
  [2009.50, 2.5, 4, 5.5, 7, 8.5, 10], [2009.75, 1.5, 3, 4.5, 6, 7.5, 9, 10.5], [2010.00, 2, 3.5, 5, 6.5, 8, 9.5],
  [2010.25, 1.5, 3, 4.5, 6, 7.5, 9, 11], [2010.50, 2.5, 4, 5.5, 7, 8.5, 10], [2010.75, 1.5, 3, 4.5, 6, 7.5, 9],
  [2011.00, 2, 3.5, 5, 6.5, 8, 9.5], [2011.25, 0.5, 2, 3.5, 5, 6.5, 8], [2011.50, 0.5, 1.5, 3, 4.5, 6, 7.5, 9],
  [2011.75, 2.5, 4, 6, 7.5, 9, 10.5], [2012.00, 6.5, 8, 9.5, 11, 12.5, 14], [2012.25, 7, 8.5, 10, 11.5, 13],
  [2012.50, 6.5, 8, 9.5, 11, 12.5, 14], [2012.75, 7.5, 9, 10.5, 12, 13.5], [2013.00, 7, 8.5, 10, 11.5, 13, 14.5],
  [2013.25, 8, 9.5, 11, 12.5, 14], [2013.50, 7.5, 9, 10.5, 12, 13.5, 15], [2013.75, 8.5, 10, 11.5, 13, 14.5],
  [2014.00, 8, 9.5, 11, 12.5, 14], [2014.25, 9, 10.5, 12, 13.5, 15], [2014.50, 8.5, 10, 11.5, 13, 14.5],
  [2014.75, 9, 10.5, 12, 13.5, 15], [2014.90, 10, 11.5, 13, 14.5]
];

var aCyanOut = [
  [1993.54, 16.5], [1993.76, 15.8], [1995.15, 16.1], [1996.91, 15.8], [1993.98, -1.4], [1994.13, -3.1],
  [1994.71, -3.1], [1993.98, -5.3], [1993.91, -7.3], [1993.25, -7.3], [1993.91, -11.5], [1994.05, -14.5],
  [2001.07, 20.4], [2001.07, 18.1], [2002.17, 14.5], [1997.7, -1.4], [1997.78, 0.8]
];

// ---------- panel B ----------
var bYearLabels = [2012, 2014, 2016, 2018];
var bYearMinor = [2013, 2015, 2017];
var bValLabels = [0, 10, 20, 30, 40];
var bValMinor = [5, 15, 25, 35];
var bBlue = [
  [2011.82, 29.5, 31], [2011.88, 28.3, 30.5], [2011.94, 29.8, 33.4, 27.6], [2012.00, 30.6, 28.2],
  [2012.06, 27, 29.5, 31], [2012.12, 26, 28.5], [2012.18, 29.7, 25.6, 27.4], [2012.24, 27.8, 30.2],
  [2012.30, 26.6, 28.9, 33], [2012.36, 25.4, 27.6], [2012.42, 29.2, 26.8, 31], [2012.48, 27.9, 30.3],
  [2012.54, 28.5, 33.2, 31.4], [2012.60, 29.6, 27.3], [2012.66, 30.4, 28.1, 32.5], [2012.70, 35.2, 31.7],
  [2012.76, 30.1, 27.9], [2012.82, 29.2, 31.1], [2012.88, 26.5, 28.6, 25], [2012.94, 24.8, 27.3],
  [2013.00, 25.6, 28.4, 30], [2013.06, 26.8, 24.5], [2013.12, 28.5, 25.7, 27.5], [2013.18, 27.2, 29.6],
  [2013.24, 26.3, 28.3, 30.6], [2013.30, 25.1, 27.5], [2013.36, 29.1, 26.6, 28.2], [2013.42, 27.8, 25.3],
  [2013.48, 26.4, 28.9, 29.8], [2013.54, 25.5, 27.2], [2013.60, 28.3, 26.1, 24.8], [2013.66, 27.5, 29.2],
  [2013.72, 25.9, 28.0, 26.6], [2013.78, 27.3, 24.9], [2013.84, 28.8, 26.4, 29.6], [2013.90, 23.1, 25.5, 27.0],
  [2013.96, 26.2, 28.4], [2014.02, 28.9, 30.8, 27.5], [2014.08, 31.5, 29.4, 33.2], [2014.14, 34.5, 32.1, 30.1],
  [2014.20, 31.3, 28.9, 33.6], [2014.26, 30.2, 32.6], [2014.32, 29.1, 31.7, 33.5], [2014.38, 30.4, 28.5],
  [2014.44, 32.2, 29.6, 31.1], [2014.50, 30.9, 32.8], [2014.56, 29.3, 31.6], [2014.62, 28.4, 30.2],
  [2014.66, 26.5, 28.8], [2014.72, 25.9, 27.4], [2014.78, 24.7, 26.3], [2014.84, 25.5, 23.9],
  [2014.90, 24.2, 26.8], [2014.94, 22.9, 28.7], [2015.00, 29.4, 31.0], [2015.04, 34.1, 30.5],
  [2015.10, 28.3, 31.7, 26.1], [2015.16, 30.4, 32.5, 27.4], [2015.22, 29.2, 31.5], [2015.28, 28.1, 30.7, 32.3],
  [2015.34, 29.6, 27.2], [2015.40, 31.4, 28.7, 30.2], [2015.46, 29.8, 32.0, 27.6], [2015.52, 28.6, 30.9],
  [2015.58, 27.4, 29.7, 31.6], [2015.64, 26.5, 28.9, 30.7], [2015.70, 27.8, 25.6], [2015.76, 29.3, 26.8, 28.2],
  [2015.82, 25.1, 27.4], [2015.88, 28.6, 26.2, 24.6], [2015.94, 27.1, 29.4], [2015.98, 30.3, 28.0]
];
var bRed = [
  [2011.74, 7.3], [2011.80, 8.2, 6.4], [2011.86, 9.1, 7.0, 5.6], [2011.92, 8.0, 9.9], [2011.98, 6.8, 8.6, 5.2],
  [2012.04, 7.6, 9.3, 4.2], [2012.10, 6.3, 8.4], [2012.16, 7.9, 5.4, 9.4], [2012.22, 6.9, 8.8, 3.6],
  [2012.28, 7.4, 5.8], [2012.34, 8.3, 6.2, 3.0], [2012.38, 2.0, 4.6, 7.2], [2012.44, 8.9, 6.6],
  [2012.50, 7.8, 9.8, 5.1], [2012.56, 10.6, 8.2], [2012.62, 7.0, 9.1, 5.8], [2012.68, 8.5, 6.4],
  [2012.74, 7.7, 9.6, 5.3], [2012.80, 6.7, 8.4], [2012.86, 7.5, 5.2, 9.1], [2012.92, 6.1, 4.3],
  [2012.98, 7.9, 5.7, 8.8], [2013.04, 6.6, 4.8], [2013.10, 7.4, 5.4, 8.4], [2013.16, 6.2, 4.0],
  [2013.22, 7.8, 5.9, 8.9], [2013.28, 6.8, 4.6], [2013.34, 7.3, 2.5, 5.5], [2013.40, 8.3, 6.1],
  [2013.46, 7.0, 5.0, 8.8], [2013.52, 6.4, 4.4], [2013.58, 7.6, 5.8, 9.0], [2013.64, 6.7, 4.9],
  [2013.70, 8.1, 6.0, 7.3], [2013.76, 5.4, 3.6], [2013.82, 7.2, 8.9, 6.1], [2013.88, 5.7, 3.8],
  [2013.94, 7.5, 9.5, 6.4], [2014.00, 8.3, 5.9], [2014.06, 6.9, 9.0, 4.8], [2014.12, 7.8, 6.2],
  [2014.18, 8.7, 5.5, 9.8], [2014.24, 7.1, 4.6], [2014.30, 8.4, 6.5, 9.4], [2014.36, 7.0, 5.2],
  [2014.42, 8.2, 6.0, 10.2], [2014.48, 7.3, 4.7], [2014.54, 8.6, 6.4, 5.4], [2014.60, 7.5, 9.3],
  [2014.66, 6.2, 4.4, 8.1], [2014.72, 7.0, 5.6], [2014.78, 2.9, 6.3, 8.4], [2014.84, 5.3, 7.6],
  [2014.90, 6.6, 4.5, 8.8], [2014.96, 7.4, 5.5], [2015.02, 6.1, 8.3, 4.1], [2015.08, 7.2, 5.8],
  [2015.14, 8.6, 6.5, 4.8], [2015.20, 7.5, 5.2], [2015.26, 6.4, 8.9, 4.3], [2015.32, 7.3, 5.6],
  [2015.38, 9.5, 6.6, 8.2], [2015.44, 5.9, 7.8], [2015.50, 10.2, 6.9, 4.6], [2015.56, 8.4, 5.3],
  [2015.62, 7.2, 9.6, 6.1], [2015.68, 5.8, 4.2], [2015.74, 8.7, 6.9, 7.6], [2015.80, 5.4, 9.2],
  [2015.86, 6.5, 4.0, 8.1], [2015.92, 11.2, 7.4, 3.6], [2015.98, 5.6, 8.6], [2016.04, 6.8, 4.6, 9.0],
  [2016.10, 3.3, 7.6, 5.7], [2016.16, 8.2, 6.3], [2016.22, 7.1, 9.1, 5.0], [2016.28, 6.4, 8.4],
  [2016.34, 7.7, 5.6, 9.5], [2016.40, 8.8, 6.9], [2016.46, 7.5, 10.1, 5.9], [2016.52, 9.4, 7.1],
  [2016.58, 13.4, 11.2, 8.6], [2016.64, 9.9, 7.6, 6.0], [2016.70, 8.4, 10.6], [2016.76, 7.2, 9.2, 5.5],
  [2016.82, 6.4, 8.3], [2016.88, 7.6, 5.2, 9.6], [2016.94, 6.8, 4.6], [2017.00, 8.0, 5.9, 7.1],
  [2017.06, 4.2, 6.5], [2017.12, 7.8, 9.7, 5.3], [2017.16, 12.1, 11.0], [2017.22, 8.6, 6.4, 10.3],
  [2017.28, 7.3, 5.0], [2017.34, 8.9, 6.7, 11.3], [2017.38, 4.9, 7.8], [2017.44, 9.4, 6.9, 8.3],
  [2017.50, 7.4, 10.1], [2017.56, 8.8, 6.2, 9.7], [2017.62, 7.9, 5.6], [2017.68, 11.7, 9.0, 7.3],
  [2017.74, 8.5, 6.4], [2017.80, 10.4, 7.8, 9.2], [2017.86, 6.6, 4.2], [2017.92, 8.3, 9.6, 5.3],
  [2017.98, 7.4, 5.5, 8.2]
];

// ---------- panel C ----------
var cYearLabels = [2008, 2010, 2012, 2014, 2016, 2018];
var cYearMinor = [2009, 2011, 2013, 2015, 2017];
var cValLabels = [-5, 0, 5, 10, 15, 20, 25, 30];
var cValMinor = [-2.5, 2.5, 7.5, 12.5, 17.5, 22.5, 27.5];
var cRed = [
  [2008.57, 6.1, 4.8], [2008.63, 3.9, 5.2, 2.9], [2008.69, 2.5, 3.6, 1.6], [2008.75, 1.8, 0.6, 3.0],
  [2008.81, 0.9, 2.2, -0.4], [2008.87, 1.5, -0.9, 2.8], [2008.93, 0.3, 1.9, 3.3], [2008.99, 2.4, 0.8, 3.5],
  [2009.05, 1.3, 2.9, -0.3], [2009.11, 3.1, 1.6, 0.4], [2009.17, 2.0, 3.4, 0.9], [2009.23, 1.0, 2.6, -0.6],
  [2009.29, 3.2, 1.7, 5.1], [2009.35, 2.3, 0.6, -1.1], [2009.41, 1.6, 3.0, -1.3], [2009.47, 2.6, 0.9, 3.6],
  [2009.53, 3.4, 1.8, 0.3], [2009.59, 2.7, 4.1, 1.1], [2009.65, 3.8, 2.2, 0.5], [2009.71, 1.4, 3.1, 4.3],
  [2009.77, -1.7, 0.7, 2.5], [2009.83, 3.9, 5.5, 2.3], [2009.89, 5.2, 6.4, 3.8], [2009.95, 6.1, 4.6, 3.1],
  [2010.01, 5.7, 4.2, 6.6], [2010.07, 4.8, 6.0, 3.4], [2010.13, 5.3, 3.9, 4.6], [2010.19, 4.1, 5.4, 2.9],
  [2010.25, 3.5, 4.7, 2.5], [2010.31, 4.4, 3.1, 5.0], [2010.37, 3.7, 2.4, 4.5], [2010.43, 4.2, 5.3, 3.0],
  [2010.49, 3.4, 4.6, 2.3], [2010.55, 4.8, 3.6, 5.4], [2010.61, 3.9, 2.7, 4.6], [2010.67, 4.4, 3.2, 5.1],
  [2010.73, 3.5, 4.8, 2.6], [2010.79, 4.1, 2.9], [2010.85, 3.6, 4.7, 2.4], [2010.91, 4.5, 5.4, 3.3],
  [2010.97, 3.9, 5.0, 2.7], [2011.03, 4.6, 3.4, 5.2], [2011.09, 3.8, 4.9, 2.9], [2011.15, 4.3, 3.1, 5.0],
  [2011.21, 3.5, 4.6, 2.5], [2011.27, 4.1, 2.8, 3.4], [2011.33, 3.3, 4.4, 2.2], [2011.39, 3.8, 2.6, 4.7],
  [2011.45, 3.0, 4.2, 2.1], [2011.51, 4.5, 3.5, 5.0], [2011.57, 3.7, 2.5, 4.3], [2011.63, 4.8, 3.2, 5.4],
  [2011.69, 3.9, 2.8, 4.6], [2011.75, 4.4, 5.3, 3.3], [2011.81, 3.6, 2.3, 4.1], [2011.87, 3.2, 2.0, 4.0],
  [2011.93, 2.8, 1.6, 3.5], [2011.99, 2.4, 3.3, 1.3], [2012.05, 3.0, 1.9, 2.6], [2012.11, 2.2, 3.4, 1.4],
  [2012.17, 2.9, 1.7, 3.6], [2012.23, 2.0, 3.1, 1.2], [2012.29, 2.7, 1.5, 3.4], [2012.35, 2.1, 0.5, 3.2],
  [2012.41, 3.6, 2.4, 4.5, 1.5, 5.3], [2012.47, 4.8, 3.5, 5.6, 2.6, 6.3], [2012.53, 5.9, 4.4, 3.3, 2.1, 6.6],
  [2012.59, 4.9, 6.2, 3.8, 2.5, 5.5], [2012.65, 5.5, 4.1, 2.9, 6.4, 1.9], [2012.71, 4.6, 5.8, 3.4, 2.2, 6.1],
  [2012.77, 5.2, 3.9, 2.6, 6.0, 1.6], [2012.83, 4.3, 5.5, 3.1, 6.3, 2.0], [2012.89, 5.0, 3.6, 4.4, 2.5, 5.9],
  [2012.95, 4.1, 5.3, 2.8, 6.2, 1.8], [2013.01, 4.7, 3.4, 5.6, 2.3, 6.4], [2013.07, 3.9, 5.0, 2.6, 5.9, 1.7],
  [2013.13, 4.5, 3.2, 5.4, 2.1, 6.2], [2013.19, 3.6, 4.8, 2.4, 5.7, 1.6], [2013.25, 9.2, 4.2, 5.6, 3.0, 6.5],
  [2013.31, 3.4, 4.6, 2.2, 5.5, 1.5], [2013.37, 4.0, 5.2, 1.8, 2.9, 6.1], [2013.43, 3.1, 4.4, 2.6, 5.6, 1.4],
  [2013.49, 4.7, 3.5, 5.5, 2.4, 6.4], [2013.55, 3.8, 5.0, 2.9, 6.0, 2.0], [2013.61, 4.4, 3.2, 5.7, 2.3, 6.6],
  [2013.67, 3.6, 4.9, 2.5, 5.8, 1.7], [2013.73, 5.2, 4.0, 6.1, 3.0, 6.9], [2013.79, 4.6, 3.3, 5.5, 2.4, 6.4],
  [2013.85, 3.9, 5.1, 2.7, 6.0, 1.9], [2013.91, 4.5, 3.4, 5.8, 2.5, 6.7], [2013.97, 5.0, 3.8, 6.3, 2.8, 7.0],
  [2014.03, 4.3, 5.6, 3.1, 6.5, 2.2], [2014.09, 5.1, 3.9, 6.0, 2.9, 6.9], [2014.15, 4.4, 5.7, 3.3, 6.6, 2.4],
  [2014.21, 5.3, 4.0, 6.2, 3.0, 7.1], [2014.27, 4.6, 3.5, 5.5, 2.6, 6.5], [2014.33, 5.4, 4.2, 6.3, 3.2, 7.0],
  [2014.39, 4.7, 3.6, 5.8, 2.7, 6.7], [2014.45, 5.2, 4.1, 2.6, 6.1, 3.3], [2014.51, 4.5, 5.9, 3.4, 6.8, 2.5],
  [2014.57, 5.5, 4.3, 6.4, 3.3, 2.4], [2014.63, 4.8, 3.2, 5.7, 6.6, 2.3], [2014.69, 5.3, 4.0, 2.4, 6.2, 3.2],
  [2014.75, 4.4, 5.6, 3.3, 6.5, 2.5], [2014.81, 5.0, 3.8, 6.0, 2.8, 6.9], [2014.87, 4.2, 5.4, 3.1, 6.3, 2.3],
  [2014.93, 4.9, 3.6, 5.8, 2.7, 6.7], [2014.99, 5.5, 4.3, 6.4, 3.3, 7.1], [2015.05, 4.6, 5.9, 3.5, 6.8, 2.6],
  [2015.11, 5.2, 4.0, 2.8, 6.2, 3.4], [2015.17, 4.5, 5.7, 3.4, 6.6, 2.6], [2015.23, 5.3, 6.2, 4.2, 3.2, 7.0],
  [2015.29, 4.8, 3.7, 5.8, 6.7, 2.9], [2015.35, 5.6, 6.5, 4.4, 3.5, 7.2], [2015.41, 6.1, 5.0, 7.0, 4.1, 3.4],
  [2015.47, 6.6, 5.4, 7.4, 4.5, 3.7], [2015.53, 7.5, 6.3, 5.2, 4.3, 6.9], [2015.59, 6.8, 7.6, 5.6, 4.6, 3.9],
  [2015.65, 6.2, 7.2, 5.0, 4.1, 3.3], [2015.71, 5.7, 6.7, 4.6, 3.6, 7.0], [2015.77, 5.2, 6.2, 4.0, 3.1, 6.8],
  [2015.83, 4.6, 5.6, 3.5, 2.6, 6.3], [2015.89, 4.1, 5.0, 3.0, 2.2, 5.9], [2015.95, 3.6, 4.6, 2.6, 1.8, 5.4],
  [2016.01, 3.9, 2.8, 4.8, 1.9], [2016.07, 3.3, 4.3, 2.3, 5.2], [2016.13, 3.8, 2.7, 4.5, 1.7],
  [2016.19, 3.1, 4.1, 2.2, 5.0], [2016.25, 3.6, 2.5, 4.4, 1.6], [2016.31, 3.0, 3.9, 1.9, 4.9],
  [2016.37, 3.5, 4.6, 2.6, 5.3], [2016.43, 2.9, 3.8, 2.0, 4.7], [2016.49, 4.0, 3.1, 4.9, 2.1],
  [2016.55, 3.4, 2.4, 4.3, 5.1], [2016.61, 3.9, 4.8, 2.8, 1.9], [2016.67, 3.2, 4.2, 2.2, 5.0],
  [2016.73, 4.4, 3.3, 5.0, 2.4], [2016.79, 3.6, 2.6, 4.5, 1.8], [2016.85, 4.1, 3.0, 1.6, 4.9],
  [2016.91, 3.4, 4.6, 2.4, 5.3], [2016.97, 3.9, 2.8, 4.8, 1.9], [2017.03, 3.3, 4.4, 2.3, 5.1],
  [2017.09, 4.0, 2.9, 4.9, 2.0], [2017.15, 3.5, 4.6, 2.5, 5.3], [2017.21, 4.2, 3.1, 5.0, 2.2],
  [2017.27, 3.7, 2.6, 4.6, 5.4], [2017.33, 4.4, 3.4, 5.2, 2.5], [2017.39, 3.8, 2.7, 4.8, 5.5],
  [2017.45, 4.5, 3.5, 5.3, 2.6], [2017.51, 3.9, 4.9, 2.9, 5.6], [2017.57, 4.6, 3.6, 5.4, 2.7],
  [2017.63, 4.0, 3.0, 5.0, 2.2], [2017.69, 4.7, 3.7, 5.4, 2.8], [2017.75, 3.5, 2.5, 4.4, 1.8],
  [2017.81, 2.9, 1.8, 3.7, 1.0], [2017.87, 2.3, 1.2, 3.2, 0.6], [2017.93, 1.6, 0.7, 2.6], [2017.99, 0.9, 1.8]
];
var cBlue = [
  [2008.57, 5.5, 4.6], [2008.63, 4.2, 5.3, 3.4], [2008.69, 3.1, 4.0, 2.2], [2008.75, 2.6, 1.5, 3.6],
  [2008.81, 1.2, 2.3, 0.4], [2008.87, 0.2, 1.6, 2.9], [2008.93, 1.0, -0.2, 2.4], [2008.99, 1.9, 0.5, 3.0],
  [2009.05, 0.8, 2.5, -0.4], [2009.11, 1.5, 0.2, 2.9], [2009.17, 2.2, 0.9, -0.6], [2009.23, 1.3, 2.7, 0.0],
  [2009.29, -0.9, 1.8, 0.6], [2009.33, 4.5, 2.4], [2009.39, 1.1, -0.3, 2.6], [2009.45, 0.5, 1.9, 3.3],
  [2009.51, 2.8, 1.2, -0.5], [2009.57, 3.6, 1.8, 5.0], [2009.63, 4.4, 2.6, 5.8], [2009.69, 3.2, 5.2, 1.4],
  [2009.75, 4.0, -1.1, 2.3], [2009.81, 4.9, 3.3, 1.7], [2009.87, 2.5, 4.1, 5.6], [2009.93, -0.1, 3.0, 4.6],
  [2009.99, 3.8, 2.1, 5.2], [2010.05, 2.9, 4.4, 1.4], [2010.11, 3.5, 2.0, 4.8], [2010.17, 2.6, 4.1, 0.8],
  [2010.23, 3.3, 1.7, 4.6], [2010.29, 2.4, 3.8], [2010.35, 1.6, 3.1, 4.4], [2010.41, 2.8, 4.0, 1.2],
  [2010.47, 3.5, 2.1, 4.8], [2010.53, 2.3, 3.7, 1.5], [2010.59, 3.9, 2.6, 5.0], [2010.65, 3.1, 1.8, 4.3],
  [2010.71, -0.1, 2.6, 3.8], [2010.77, 3.3, 1.9, 4.5], [2010.83, 2.5, 3.8, 1.3], [2010.89, 3.1, 1.9, 4.2],
  [2010.95, 2.2, 3.5, 0.9], [2011.01, 2.8, 1.5, 3.9], [2011.07, 1.9, 3.2, 0.6], [2011.13, 2.5, 1.1, -0.5],
  [2011.19, 1.6, 0.3, 2.9], [2011.25, 2.3, -0.7, 1.0], [2011.31, 1.4, 2.8, -0.2], [2011.37, 0.6, 2.0, 3.4],
  [2011.43, 1.8, 3.1, 0.3], [2011.49, 2.7, 4.0, 1.4], [2011.55, 3.4, 2.0, 4.7], [2011.61, 2.6, 3.9, 1.2],
  [2011.67, 3.7, 2.3, 4.9], [2011.73, 2.9, 4.2, 1.8], [2011.79, 3.6, 2.2, 5.0], [2011.85, 3.0, 4.4],
  [2011.91, 3.8, 5.1, 2.6], [2011.97, 6.7, 4.5, 3.3], [2012.03, 4.0, 5.3, 2.8], [2012.09, 4.6, 3.4, 5.8],
  [2012.15, 3.9, 5.2, 2.7], [2012.21, 4.4, 3.1, 5.6], [2012.27, 5.0, 3.8, 6.2], [2012.33, 4.5, 6.0, 3.3],
  [2012.39, 5.8, 7.2, 4.6, 8.3, 3.6], [2012.45, 6.8, 8.3, 5.5, 9.4, 4.4], [2012.51, 7.5, 9.0, 6.2, 10.1, 5.0],
  [2012.57, 8.6, 10.0, 7.1, 6.0, 10.8], [2012.63, 9.3, 7.8, 10.6, 6.6, 8.6], [2012.69, 8.1, 9.8, 11.0, 6.9, 7.4],
  [2012.75, 10.4, 8.6, 7.2, 9.5, 6.3], [2012.81, 9.1, 7.6, 10.2, 6.5, 8.3], [2012.87, 8.3, 9.7, 6.9, 10.6, 7.5],
  [2012.93, 7.5, 8.9, 10.3, 6.4, 9.6], [2012.99, 8.7, 7.2, 6.3, 9.6, 10.4], [2013.05, 9.6, 8.1, 7.0, 6.1, 10.5],
  [2013.11, 8.4, 6.8, 9.8, 7.6, 5.9], [2013.17, 7.6, 8.9, 6.4, 9.9, 7.0], [2013.23, 9.2, 7.3, 6.5, 8.2, 10.1],
  [2013.29, 8.1, 9.5, 7.0, 6.2, 10.4], [2013.35, 7.4, 8.7, 6.1, 9.6, 7.9], [2013.41, 8.8, 7.0, 9.9, 6.3, 8.0],
  [2013.47, 7.7, 6.4, 8.9, 9.8, 5.7], [2013.53, 9.3, 8.0, 6.9, 10.2, 7.3], [2013.59, 7.3, 8.6, 6.3, 9.7, 7.9],
  [2013.65, 8.9, 10.1, 7.6, 6.8, 9.4], [2013.71, 9.6, 8.3, 10.8, 7.2, 11.3], [2013.77, 7.9, 9.2, 6.7, 10.3, 8.5],
  [2013.83, 8.6, 10.3, 7.4, 9.5, 11.0], [2013.89, 9.8, 8.4, 7.3, 10.9, 11.6], [2013.95, 10.1, 8.8, 7.5, 9.4, 11.2],
  [2014.01, 9.0, 10.4, 7.8, 11.3, 8.4], [2014.07, 8.5, 9.8, 6.7, 10.9, 7.6], [2014.13, 9.3, 10.6, 8.0, 11.5, 7.1],
  [2014.19, 10.0, 8.7, 11.0, 7.6, 9.4], [2014.25, 9.4, 7.9, 10.5, 11.6, 8.6], [2014.31, 10.3, 8.8, 11.2, 7.4, 9.6],
  [2014.37, 9.6, 8.2, 10.8, 11.8, 7.2], [2014.43, 11.1, 9.8, 8.4, 12.2, 7.5], [2014.49, 10.2, 11.5, 9.0, 8.0, 12.4],
  [2014.55, 9.5, 10.8, 8.1, 11.9, 7.3], [2014.61, 11.4, 10.0, 7.2, 8.7, 12.3], [2014.67, 9.2, 10.6, 8.3, 11.6, 7.4],
  [2014.73, 10.1, 11.7, 8.8, 12.6, 7.7], [2014.79, 9.4, 10.9, 8.2, 12.0, 7.0], [2014.85, 8.3, 10.2, 11.5, 9.2, 12.5],
  [2014.91, 9.7, 11.0, 7.6, 8.6, 12.2], [2014.97, 14.0, 10.8, 9.3, 12.0, 8.2], [2015.03, 11.6, 10.1, 12.4, 9.0, 13.3],
  [2015.09, 10.5, 11.9, 9.2, 12.8, 8.6], [2015.15, 11.3, 12.6, 10.0, 9.1, 13.4], [2015.21, 10.2, 11.7, 9.0, 12.8, 8.5],
  [2015.27, 12.1, 10.8, 13.0, 9.6, 11.4], [2015.33, 11.0, 9.7, 12.3, 13.2, 8.8], [2015.39, 10.6, 12.0, 9.3, 13.1, 8.4],
  [2015.45, 11.8, 10.4, 13.2, 9.4, 12.6], [2015.51, 12.3, 11.0, 9.6, 13.4, 10.3], [2015.57, 10.9, 12.5, 11.6, 9.5, 13.5],
  [2015.63, 11.7, 10.3, 13.4, 9.2, 12.4], [2015.69, 12.6, 11.2, 9.8, 13.6, 10.5], [2015.75, 11.0, 12.4, 10.1, 13.3, 9.3],
  [2015.81, 12.9, 11.5, 10.2, 9.4, 13.8], [2015.87, 11.3, 12.7, 9.9, 13.6, 10.6], [2015.93, 10.4, 11.8, 12.9, 9.5, 13.7],
  [2015.99, 11.6, 10.2, 12.4, 9.3, 13.3], [2016.05, 12.2, 10.9, 11.5, 13.4, 9.8], [2016.11, 11.0, 12.5, 9.8, 13.6, 10.4],
  [2016.17, 9.0, 11.9, 10.6, 12.8, 13.7], [2016.23, 12.6, 11.2, 13.3, 10.0, 14.1], [2016.29, 11.4, 12.9, 10.3, 13.8, 9.6],
  [2016.35, 12.3, 10.8, 13.6, 9.9, 14.3], [2016.41, 13.0, 11.7, 14.5, 10.5, 12.4], [2016.47, 12.1, 13.5, 10.9, 14.2, 9.8],
  [2016.53, 14.2, 12.8, 11.4, 10.3, 13.6], [2016.59, 13.1, 11.9, 10.6, 14.0, 9.7], [2016.65, 12.4, 13.8, 11.0, 9.9, 14.4],
  [2016.71, 11.6, 12.9, 10.2, 13.7, 9.4], [2016.77, 12.7, 11.3, 9.6, 13.5, 10.4], [2016.83, 10.8, 12.1, 9.3, 13.1, 11.5],
  [2016.89, 11.7, 10.4, 12.8, 9.5, 13.4], [2016.95, 10.1, 11.5, 9.2, 12.6, 8.7], [2017.01, 11.9, 10.6, 12.6, 9.5, 13.2],
  [2017.07, 10.3, 11.8, 9.5, 12.7, 8.9], [2017.13, 12.5, 11.1, 10.0, 13.3, 9.2], [2017.19, 11.4, 12.9, 10.2, 9.1, 13.6],
  [2017.25, 12.0, 10.7, 13.4, 9.6, 11.3], [2017.31, 10.9, 12.3, 9.7, 13.1, 8.8], [2017.37, 11.6, 13.0, 10.4, 9.3, 13.9],
  [2017.43, 12.8, 11.3, 14.5, 10.1, 13.6], [2017.48, 16.8, 15.6, 14.4, 12.0, 10.8], [2017.53, 12.6, 11.1, 10.0, 13.4, 9.1],
  [2017.59, 9.8, 11.2, 8.6, 10.5, 7.7], [2017.65, 10.4, 9.1, 7.5, 8.3, 11.0], [2017.71, 9.6, 8.3, 10.0, 9.1],
  [2017.77, 9.2, 8.1, 9.9], [2017.81, 8.8, 9.5]
];

// flatten [epoch, v1, v2, ...] rows into [epoch, v] points
function flat(rows) {
  var out = [];
  rows.forEach(function(r) {
    for (var i = 1; i < r.length; i++) out.push([r[0], r[i]]);
  });
  return out;
}

var svg = d3.select("#chart");
var sans = "'Liberation Sans', Arial, Helvetica, sans-serif";
var serif = "'Liberation Serif', 'Times New Roman', serif";
var badge = "Lato, 'Open Sans', sans-serif";

// leftovers of the slide around the pictures
svg.append("rect").attr("x", 25).attr("y", 0).attr("width", 16).attr("height", 762).attr("fill", "#0a36ff");
svg.append("path").attr("d", "M1087,88 Q1094,52 1123,44 L1123,330 L1087,357 Z").attr("fill", "#eef1f4");
svg.append("rect").attr("x", 1160).attr("y", 0).attr("width", 570).attr("height", 9).attr("fill", "#e9edf0");
svg.append("rect").attr("x", 1990).attr("y", 0).attr("width", 107).attr("height", 160).attr("fill", "#f6f6f6");
svg.append("path").attr("d", "M1995,333 L2060,330 L2070,520 L2016,522 L2012,425 L1992,420 Z").attr("fill", "#e1e1e1");

/*
 * Panel A
 */
var xA = d3.scaleLinear().domain([1979.03, 2015.5]).range([232, 1061]);
var yA = d3.scaleLinear().domain([-50, 50]).range([572, 60]);

svg.append("clipPath").attr("id", "clipA").append("rect")
  .attr("x", 232).attr("y", 60).attr("width", 829).attr("height", 512);
var ptsA = svg.append("g").attr("clip-path", "url(#clipA)");

ptsA.selectAll("circle.ared")
  .data(flat(aRedCore).concat(flat(aRedOut)))
  .join("circle").attr("class", "ared")
  .attr("cx", function(d) { return xA(d[0]); })
  .attr("cy", function(d) { return yA(d[1]); })
  .attr("r", 4)
  .attr("fill", "#fb0e1d");

ptsA.selectAll("rect.ablue")
  .data(flat(aBlueCore).concat(flat(aBlueOut)))
  .join("rect").attr("class", "ablue")
  .attr("x", function(d) { return xA(d[0]) - 3.4; })
  .attr("y", function(d) { return yA(d[1]) - 3.4; })
  .attr("width", 6.8).attr("height", 6.8)
  .attr("fill", "#1445ff");

ptsA.selectAll("rect.acyan")
  .data(flat(aCyanCore).concat(flat(aCyanOut)))
  .join("rect").attr("class", "acyan")
  .attr("x", function(d) { return xA(d[0]) - 3.6; })
  .attr("y", function(d) { return yA(d[1]) - 3.6; })
  .attr("width", 7.2).attr("height", 7.2)
  .attr("fill", "#30fbf0");

svg.append("line")
  .attr("x1", 232).attr("x2", 1061).attr("y1", yA(0)).attr("y2", yA(0))
  .attr("stroke", "#000").attr("stroke-width", 1.5);

svg.append("rect")
  .attr("x", 232).attr("y", 60).attr("width", 829).attr("height", 512)
  .attr("fill", "none").attr("stroke", "#000").attr("stroke-width", 3.5);

function plainAxis(sel, font) {
  sel.select(".domain").remove();
  sel.selectAll("line").attr("stroke", "#000").attr("stroke-width", 1.5);
  sel.selectAll("text").style("font", font).attr("fill", "#000");
}

svg.append("clipPath").attr("id", "clipAx").append("rect")
  .attr("x", 0).attr("y", 0).attr("width", 1087).attr("height", 762);
svg.append("g")
  .attr("transform", "translate(0," + 572 + ")")
  .attr("clip-path", "url(#clipAx)")
  .call(d3.axisBottom(xA).tickValues(aYearTicks).tickSize(13).tickPadding(12).tickFormat(d3.format("d")))
  .call(plainAxis, "30px " + sans);
svg.append("g")
  .attr("transform", "translate(0," + 60 + ")")
  .call(d3.axisTop(xA).tickValues(aYearTicks).tickSize(13).tickFormat(""))
  .call(plainAxis, "30px " + sans);
svg.append("g")
  .attr("transform", "translate(" + 232 + ",0)")
  .call(d3.axisLeft(yA).tickValues(aValTicks).tickSize(11).tickPadding(14).tickFormat(d3.format("d")))
  .call(plainAxis, "30px " + sans);

// the right ticks of the source picture look broken
svg.selectAll("line.rtick").data(aValTicks).join("line").attr("class", "rtick")
  .attr("x1", 1063).attr("x2", 1088)
  .attr("y1", function(d) { return yA(d); }).attr("y2", function(d) { return yA(d); })
  .attr("stroke", "#000").attr("stroke-width", 1.5).attr("stroke-dasharray", "12,7,5");

svg.append("text")
  .attr("x", 256).attr("y", 35)
  .attr("textLength", 763).attr("lengthAdjust", "spacingAndGlyphs")
  .style("font", "26px " + sans)
  .text(aTitle);

svg.append("text")
  .attr("x", 894).attr("y", 518)
  .attr("textLength", 127).attr("lengthAdjust", "spacingAndGlyphs")
  .style("font", "700 97px " + badge)
  .text("(A)");

/*
 * Panels B and C share one layout
 */
function gridPanel(p) {
  var x = d3.scaleLinear().domain(p.xDomain).range(p.xRange);
  var y = d3.scaleLinear().domain(p.yDomain).range(p.yRange);
  var x0 = p.xRange[0], x1 = p.xRange[1], yb = p.yRange[0], yt = p.yRange[1];
  var g = svg.append("g");

  g.selectAll("line.vg").data(p.xGrid).join("line").attr("class", "vg")
    .attr("x1", function(d) { return x(d); }).attr("x2", function(d) { return x(d); })
    .attr("y1", yt).attr("y2", yb)
    .attr("stroke", "#333").attr("stroke-width", 2).attr("stroke-dasharray", "11,7");
  g.selectAll("line.hg").data(p.yGrid).join("line").attr("class", "hg")
    .attr("x1", x0).attr("x2", x1)
    .attr("y1", function(d) { return y(d); }).attr("y2", function(d) { return y(d); })
    .attr("stroke", "#333").attr("stroke-width", 2).attr("stroke-dasharray", "10,7");

  p.series.forEach(function(s, i) {
    g.selectAll("circle.s" + i).data(flat(s.rows)).join("circle").attr("class", "s" + i)
      .attr("cx", function(d) { return x(d[0]); })
      .attr("cy", function(d) { return y(d[1]); })
      .attr("r", 4.5)
      .attr("fill", s.color);
  });

  g.append("rect")
    .attr("x", x0).attr("y", yt).attr("width", x1 - x0).attr("height", yb - yt)
    .attr("fill", "none").attr("stroke", "#111").attr("stroke-width", 2.5);

  function inward(sel) {
    sel.select(".domain").remove();
    sel.selectAll("line").attr("stroke", "#111").attr("stroke-width", 2);
    sel.selectAll("text").style("font", "30px " + serif).attr("fill", "#3a3a3a");
  }
  var allX = p.xLabels.concat(p.xMinor), allY = p.yLabels.concat(p.yMinor);
  g.append("g").attr("transform", "translate(0," + yb + ")")
    .call(d3.axisBottom(x).tickValues(p.xLabels).tickSize(-16).tickPadding(15).tickFormat(d3.format("d")))
    .call(inward);
  g.append("g").attr("transform", "translate(0," + yb + ")")
    .call(d3.axisBottom(x).tickValues(p.xMinor).tickSize(-15).tickFormat(""))
    .call(inward);
  g.append("g").attr("transform", "translate(0," + yt + ")")
    .call(d3.axisTop(x).tickValues(allX).tickSize(-15).tickFormat(""))
    .call(inward);
  g.append("g").attr("transform", "translate(" + x0 + ",0)")
    .call(d3.axisLeft(y).tickValues(p.yLabels).tickSize(-16).tickPadding(14).tickFormat(d3.format("d")))
    .call(inward);
  g.append("g").attr("transform", "translate(" + x0 + ",0)")
    .call(d3.axisLeft(y).tickValues(p.yMinor).tickSize(-15).tickFormat(""))
    .call(inward);
  g.append("g").attr("transform", "translate(" + x1 + ",0)")
    .call(d3.axisRight(y).tickValues(allY).tickSize(-15).tickFormat(""))
    .call(inward);

  g.append("text")
    .attr("transform", "translate(1157," + p.titleY + ") rotate(-90)")
    .attr("text-anchor", "middle")
    .style("font", "36px " + serif).attr("fill", "#444")
    .text("Scale (mm)");

  g.append("text")
    .attr("x", p.badge[0]).attr("y", p.badge[1])
    .attr("textLength", p.badge[2]).attr("lengthAdjust", "spacingAndGlyphs")
    .style("font", "700 97px " + badge)
    .text(p.badgeText);
}

gridPanel({
  xDomain: [2011, 2019], xRange: [1220, 1884],
  yDomain: [0, 40], yRange: [332, 28.5],
  xGrid: [2012, 2014, 2016, 2018], yGrid: [10, 20, 30],
  xLabels: bYearLabels, xMinor: bYearMinor,
  yLabels: bValLabels, yMinor: bValMinor,
  series: [{ rows: bBlue, color: "#0b0bf5" }, { rows: bRed, color: "#f70c0c" }],
  titleY: 179,
  badge: [1737, 148, 121], badgeText: "(B)"
});

gridPanel({
  xDomain: [2008, 2018], xRange: [1217.5, 1851.5],
  yDomain: [-5, 30], yRange: [707, 418],
  xGrid: [2010, 2012, 2014, 2016], yGrid: [0, 5, 10, 15, 20, 25],
  xLabels: cYearLabels, xMinor: cYearMinor,
  yLabels: cValLabels, yMinor: cValMinor,
  series: [{ rows: cRed, color: "#f70c0c" }, { rows: cBlue, color: "#0b0bf5" }],
  titleY: 560,
  badge: [1258, 515, 119], badgeText: "(C)"
});
</script>
</body>
</html>
